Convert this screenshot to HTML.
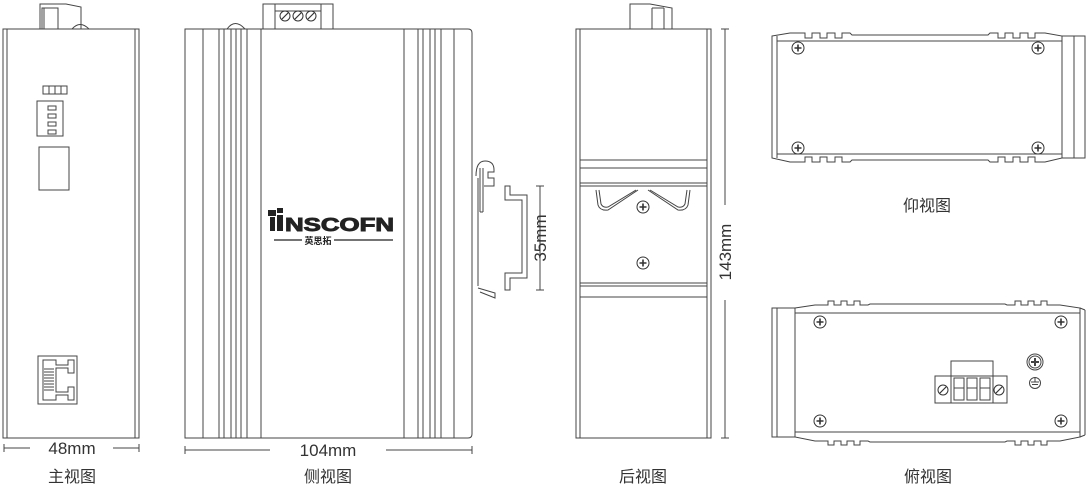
<!DOCTYPE html>
<html><head><meta charset="utf-8"><style>
html,body{margin:0;padding:0;background:#fff;}
svg{display:block;}
text{font-family:"Liberation Sans","Noto Sans CJK SC",sans-serif;fill:#333;}
</style></head><body>
<svg width="1089" height="489" viewBox="0 0 1089 489" xmlns="http://www.w3.org/2000/svg">
<defs>
<g id="scr"><circle r="6" fill="#fff" stroke="#333" stroke-width="1"/><path d="M-3.5 0H3.5M0 -3.5V3.5" stroke="#333" stroke-width="1.6"/></g>
<g id="ts"><circle r="5" fill="#fff" stroke="#333" stroke-width="1"/><path d="M-3 3L3 -3" stroke="#333" stroke-width="1.2"/></g>
</defs>
<g fill="none" stroke="#444" stroke-width="1">
<!-- FRONT VIEW -->
<path d="M40 29 V4 H66 L81 7 V29" fill="#fff"/>
<path d="M42 29V8 H58 V29 M44 8V29"/>
<path d="M72 29 Q80 20 89 29"/>
<rect x="3" y="29" width="136" height="409"/>
<path d="M7 29V438 M135 29V438"/>
<path d="M43 86h6v8h-6z M49 86h6v8h-6z M55 86h6v8h-6z M61 86h6v8h-6z"/>
<rect x="37" y="101" width="26" height="35"/>
<path d="M48 106h8v4h-8z M48 114h8v4h-8z M48 122h8v4h-8z M48 130h8v4h-8z"/>
<rect x="39" y="147" width="30" height="43"/>
<rect x="38" y="356" width="39" height="48"/>
<path d="M43 360H56V365H68V360H74V373H68V368H56V392H68V387H74V400H68V395H56V400H43Z"/>
<path d="M44 369H54M44 372H54M44 375H54M44 378H54M44 381H54M44 384H54M44 387H54M44 390H54"/>
<path d="M4 448H30 M113 448H139 M4 444V452 M139 444V452"/>
<!-- SIDE VIEW -->
<rect x="263" y="4" width="70" height="25" fill="#fff"/>
<path d="M275 4V29 M321 4V29 M275 11H321"/>
<path d="M227 29 Q235 18 245 29"/>
<path d="M185 29H468 Q472 29 472 33 V434 Q472 438 468 438 H185Z"/>
<path d="M203 29V438 M219 29V438 M224 29V438 M231 29V438 M236 29V438 M241 29V438 M247 29V438 M261 29V438"/>
<path d="M404 29V438 M418 29V438 M423 29V438 M430 29V438 M435 29V438 M441 29V438 M454 29V438"/>
<path d="M185 450H270 M386 450H472 M185 446V454 M472 446V454"/>
<!-- DIN clip -->
<path d="M476 176 Q476 161 485 161 Q494 161 494 170 V172 H488 V178 H494 V186 H484"/>
<path d="M480 168V212 M483 168V212 M480 212H483"/>
<path d="M478 178V286 M478 288 L495 293 V298 L480 292"/>
<!-- rail -->
<path d="M505 186H510V195H527V278H510V290H505V273H522V200H505Z"/>
<path d="M540 186V290 M536 186H544 M536 290H544"/>
<!-- BACK VIEW -->
<path d="M630 29 V4 H650 L672 8 V29" fill="#fff"/>
<path d="M652 8V29 M664 8V29 M652 8H664"/>
<rect x="576" y="29" width="135" height="409"/>
<path d="M580 29V438 M707 29V438"/>
<rect x="580" y="160" width="127" height="137" fill="#fff"/>
<path d="M580 168H707 M580 183H707 M580 186H707 M580 283H707 M580 286H707 M580 297H707"/>
<path d="M596 190 L598 205 Q600 211 608 210 L638 190 M690 190 L688 205 Q686 211 678 210 L648 190"/>
<path d="M599 190 L601 204 Q603 208 608 207 L636 190 M687 190 L685 204 Q683 208 678 207 L650 190"/>
<path d="M725 29V205 M725 300V438 M721 29H729 M721 438H729"/>
<!-- BOTTOM VIEW -->
<path d="M772 36 L790 33 H805 V38 H812 V33 H820 V38 H827 V33 H835 V38 H842 V33 H850 L852 35 H988 L990 33 H998 V38 H1005 V33 H1013 V38 H1020 V33 H1028 V38 H1035 V33 H1045 L1062 36 V158 L1045 162 H1035 V157 H1028 V162 H1020 V157 H1013 V162 H1005 V157 H998 V162 H990 L988 160 H852 L850 162 H842 V157 H835 V162 H827 V157 H820 V162 H812 V157 H805 V162 H790 L772 158 Z"/>
<path d="M777 36V158 M777 41H1062 M777 154H1062"/>
<rect x="1062" y="36" width="23" height="122"/>
<path d="M1074 36V158"/>
<!-- TOP VIEW -->
<rect x="772" y="308" width="23" height="129"/>
<path d="M777 308V437"/>
<path d="M795 308 L815 305 H828 V301 H834 V305 H841 V301 H847 V305 H854 V301 H860 V305 H868 L870 304 H1005 L1007 305 H1015 V301 H1021 V305 H1028 V301 H1034 V305 H1041 V301 H1047 V305 H1060 L1080 308 V437 L1060 441 H1047 V445 H1041 V441 H1034 V445 H1028 V441 H1021 V445 H1015 V441 H1007 L1005 442 H870 L868 441 H860 V445 H854 V441 H847 V445 H841 V441 H834 V445 H828 V441 H815 L795 437 Z"/>
<path d="M1085 310V435 M1080 308 L1085 310 M1080 437 L1085 435"/>
<path d="M795 313H1080 M795 432H1080"/>
<rect x="951" y="361" width="42" height="15"/>
<rect x="935" y="376" width="72" height="27"/>
<path d="M951 376V403 M993 376V403"/>
<rect x="954" y="378" width="10" height="22"/><rect x="967" y="378" width="10" height="22"/><rect x="980" y="378" width="10" height="22"/>
<path d="M954 388H964 M967 388H977 M980 388H990"/>
<circle cx="1035" cy="362" r="8"/><circle cx="1035" cy="362" r="6"/>
<path d="M1031 362H1039 M1035 358V366" stroke-width="2"/>
<circle cx="1035" cy="383" r="5.5"/>
<path d="M1031 382H1039 M1032 384.5H1038 M1035 378V382"/>
</g>
<use href="#ts" x="285" y="16"/><use href="#ts" x="298" y="16"/><use href="#ts" x="311" y="16"/>
<use href="#scr" x="643" y="207"/><use href="#scr" x="643" y="263"/>
<use href="#scr" x="798" y="48"/><use href="#scr" x="1038" y="48"/><use href="#scr" x="798" y="148"/><use href="#scr" x="1038" y="148"/>
<use href="#scr" x="820" y="322"/><use href="#scr" x="1061" y="322"/><use href="#scr" x="820" y="421"/><use href="#scr" x="1061" y="421"/>
<use href="#ts" x="943" y="390"/><use href="#ts" x="999" y="390"/>
<!-- logo -->
<g fill="#222">
<rect x="268" y="210" width="8" height="6"/><rect x="277" y="208" width="6" height="5"/><rect x="270" y="217" width="5" height="14"/>
<rect x="277" y="215" width="6" height="16"/>
</g>
<text x="285" y="231" font-size="18" font-weight="bold" style="fill:#222;stroke:#222;stroke-width:0.9" textLength="109" lengthAdjust="spacingAndGlyphs">NSCOFN</text>
<path d="M274 240H302 M334 240H393" stroke="#222" stroke-width="1.2"/>
<text x="318" y="244" font-size="9" font-weight="bold" text-anchor="middle" style="fill:#222">英思拓</text>
<text x="72" y="454" font-size="17" text-anchor="middle">48mm</text>
<text x="328" y="456" font-size="17" text-anchor="middle">104mm</text>
<text x="72" y="482" font-size="16" text-anchor="middle">主视图</text>
<text x="328" y="482" font-size="16" text-anchor="middle">侧视图</text>
<text x="643" y="482" font-size="16" text-anchor="middle">后视图</text>
<text x="928" y="482" font-size="16" text-anchor="middle">俯视图</text>
<text x="927" y="211" font-size="16" text-anchor="middle">仰视图</text>
<text transform="translate(546 238) rotate(-90)" font-size="17" text-anchor="middle">35mm</text>
<text transform="translate(731 252) rotate(-90)" font-size="17" text-anchor="middle">143mm</text>
</svg>
</body></html>
